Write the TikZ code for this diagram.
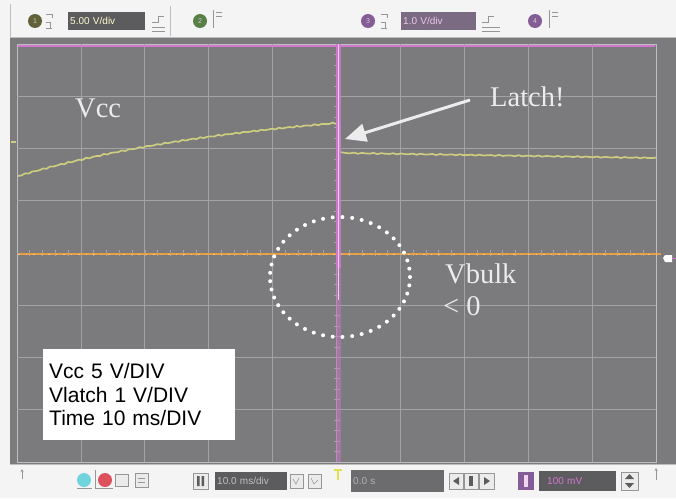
\documentclass[tikz,border=0pt]{standalone}
\usepackage{fontspec}
\setmainfont{Liberation Serif}
\newfontfamily\arialf{Liberation Sans}
\usetikzlibrary{arrows.meta}
\definecolor{scr}{RGB}{123,122,125}
\definecolor{gridc}{RGB}{163,162,165}
\definecolor{framec}{RGB}{190,190,193}
\definecolor{vcctr}{RGB}{205,205,128}
\definecolor{orng}{RGB}{232,158,68}
\definecolor{trig}{RGB}{210,118,210}
\definecolor{tbar}{RGB}{244,244,244}
\definecolor{dbox}{RGB}{92,92,94}
\definecolor{pbox}{RGB}{122,106,130}
\definecolor{icon}{RGB}{150,150,150}
\definecolor{ch1}{RGB}{98,98,58}
\definecolor{ch2}{RGB}{88,128,70}
\definecolor{ch3}{RGB}{132,92,150}
\definecolor{labc}{RGB}{236,236,236}
\definecolor{cyanb}{RGB}{112,212,222}
\definecolor{redb}{RGB}{222,80,92}
\definecolor{trigy}{RGB}{225,225,80}
\begin{document}
\begin{tikzpicture}[x=1pt,y=-1pt,
  lbl/.style={text=labc, font=\fontsize{28.5}{30}\selectfont, inner sep=0pt, anchor=base west},
  gridline/.style={gridc, line width=0.7pt},
  tick/.style={gridc, line width=0.6pt},
  darkbox/.style={fill=dbox, draw=none, inner xsep=2pt, inner ysep=0pt, anchor=west,
     text width=#1, align=left, font=\arialf\fontsize{10}{10}\selectfont},
  chan/.style={circle, minimum size=14pt, inner sep=0pt, font=\arialf\fontsize{7}{7}\selectfont, text=white!80!black},
  iconline/.style={icon, line width=0.6pt},
  btn/.style={draw=icon, line width=0.5pt, fill=white!92!black}
]
\useasboundingbox (0,0) rectangle (676,498);
\fill[tbar] (0,0) rectangle (676,498);
% screen
\fill[scr] (10,38) rectangle (676,464);
\draw[framec, line width=1pt] (17,44) rectangle (656,462);
% grid
\foreach \i in {1,...,9} \draw[gridline] ({17+\i*63.9},44) -- ({17+\i*63.9},462);
\foreach \j in {1,...,7} \draw[gridline] (17,{44+\j*52.25}) -- (656,{44+\j*52.25});
% center axis ticks
\foreach \k in {1,...,39} \draw[tick] (334,{44+\k*10.45}) -- (340,{44+\k*10.45});
\foreach \k in {1,...,49} \draw[tick] ({17+\k*12.78},250) -- ({17+\k*12.78},256);
% channel 3 top line
\draw[trig, line width=1.4pt] (18,46) -- (655,46);
% orange Vbulk trace
\draw[orng, line width=2.6pt] (18,254) -- (661,254);
\draw[orng!60!white, line width=0.8pt, dash pattern=on 1.5pt off 6pt] (18,254) -- (661,254);
% Vcc trace
\draw[vcctr, line width=1.7pt, line join=round]
  plot[domain=18:336, samples=90] (\x, {102.5+73.5*exp(-(\x-18)/250)+0.7*sin((\x-18)*41)})
  -- (339,125) -- (340,152) -- (346,153)
  -- plot[domain=346:656, samples=80] (\x, {153+5*(\x-346)/310+0.6*sin((\x-346)*37)});
% trigger (Vlatch) trace
\fill[trig, opacity=0.9] (335.5,44) rectangle (340.5,268);
\fill[trig, opacity=0.45] (335.5,268) rectangle (340.5,462);
\draw[white!65!trig, line width=0.8pt] (338,44) -- (338,300);
% dotted circle
\foreach \a in {0,8,...,352} \fill[white] ({340+70*cos(\a)},{277+60*sin(\a)}) circle (2pt);
% markers at screen edges
\draw[vcctr, line width=1.2pt] (11,142) -- (16,142);
\fill[white] (672,255) -- (665,255) -- (663,258) -- (665,262) -- (672,262) -- cycle;
\draw[trig, line width=1pt] (672,258) -- (676,258);
% arrow to latch
\coordinate (tail) at (470,100);
\coordinate (tip) at (345,139);
\draw[labc, line width=3pt, -{Triangle[length=21pt,width=18pt]}] (tail) -- (tip);
% labels
\node[lbl] (vcclbl) at (75,117) {Vcc};
\node[lbl] (latchlbl) at (490,106) {Latch!};
\node[lbl] (vbulklbl) at (445,283) {Vbulk};
\node[lbl] (ltzero) at (443,315) {< 0};
% legend box
\node[fill=white, anchor=north west, minimum width=192pt, minimum height=91pt,
      text width=180pt, align=left, inner xsep=6pt, inner ysep=0pt,
      font=\arialf\fontsize{21}{23.7}\selectfont] (legend) at (43,349)
  {Vcc 5 V/DIV\\Vlatch 1 V/DIV\\Time 10 ms/DIV};
% ---------- top toolbar ----------
\draw[framec, line width=0.8pt] (10,37.5) -- (676,37.5);
\draw[framec, line width=0.8pt] (10,4) -- (10,38);
\node[chan, fill=ch1] (c1) at (35,21) {1};
\draw[iconline] (46,14) -- (52,14) -- (52,18) (46,22) -- (50,22) -- (50,28) (46,28) -- (52,28);
\node[darkbox=73pt, minimum height=18pt, text=white!80!yellow] (vdiv1) at (68,21) {5.00 V/div};
\draw[iconline] (152,22) -- (158,22) -- (158,16) -- (164,16) (152,27) -- (165,27) (152,31) -- (165,31);
\draw[framec] (170,6) -- (170,36);
\node[chan, fill=ch2] (c2) at (200,21) {2};
\draw[iconline] (213,10) -- (213,28) (216,12) -- (222,12) (216,16) -- (222,16);
\node[chan, fill=ch3] (c3) at (368,21) {3};
\draw[iconline] (381,14) -- (387,14) -- (387,18) (381,22) -- (385,22) -- (385,28) (381,28) -- (387,28);
\node[darkbox=71pt, fill=pbox, minimum height=18pt, text=white!60!trig] (vdiv3) at (401,21) {1.0 V/div};
\draw[iconline] (482,22) -- (488,22) -- (488,16) -- (494,16) (482,27) -- (500,27) (482,31) -- (500,31);
\node[chan, fill=ch3] (c4) at (535,21) {4};
\draw[iconline] (549,10) -- (549,28) (552,12) -- (558,12) (552,16) -- (558,16);
% ---------- bottom toolbar ----------
\draw[framec, line width=0.8pt] (10,464) -- (676,464);
\coordinate (ua1) at (22,479);
\coordinate (ub1) at (22,469);
\draw[icon, line width=0.6pt, -{Stealth[length=3pt,width=3pt]}] (ua1) -- (ub1);
\node[circle, fill=cyanb, minimum size=14pt, inner sep=0pt] (cyan) at (84,480) {};
\node[circle, fill=redb, minimum size=14pt, inner sep=0pt] (red) at (105,480) {};
\draw[iconline] (77,488) -- (92,488) (95,470) -- (95,488) -- (113,488);
\draw[btn] (115,474) rectangle (128,486);
\draw[btn] (135,473) rectangle (148,487);
\draw[iconline] (138,478) -- (145,478) (138,482) -- (145,482);
\draw[btn] (193,473) rectangle (208,489);
\fill[dbox] (197,476) rectangle (199.5,486) (201.5,476) rectangle (204,486);
\node[darkbox=68pt, minimum height=18pt, text=white!75!black] (tdiv) at (215,481) {10.0 ms/div};
\draw[btn] (290,474) rectangle (303,488);
\draw[iconline] (293,479) -- (296,484) -- (299,478);
\draw[btn] (308,474) rectangle (321,488);
\draw[iconline] (311,478) -- (314,484) -- (318,480);
\draw[trigy, line width=1.3pt] (338,470) -- (338,480) (334,470) -- (342,470);
\node[darkbox=89pt, fill=dbox!90!white, minimum height=22pt, text=white!70!black] (tpos) at (351,481) {0.0 s};
\draw[btn] (449,473) rectangle (463,489);
\fill[dbox] (459,477) -- (453,481) -- (459,485) -- cycle;
\draw[btn] (464,473) rectangle (478,489);
\fill[dbox] (469,476) rectangle (473,486);
\draw[btn] (479,473) rectangle (494,489);
\fill[dbox] (484,477) -- (490,481) -- (484,485) -- cycle;
\fill[ch3] (518,472) rectangle (534,490);
\fill[white!70!trig] (524,475) rectangle (528,487);
\node[darkbox=73pt, minimum height=20pt, text=trig] (lvl) at (539,481) {\hspace*{6pt}100 mV};
\draw[btn] (621,472) rectangle (638,490);
\fill[dbox] (625,479) -- (629.5,474) -- (634,479) -- cycle;
\fill[dbox] (625,483) -- (629.5,488) -- (634,483) -- cycle;
\coordinate (ua2) at (656,480);
\coordinate (ub2) at (656,468);
\draw[icon, line width=0.6pt, -{Stealth[length=3pt,width=3pt]}] (ua2) -- (ub2);
\end{tikzpicture}
\end{document}
